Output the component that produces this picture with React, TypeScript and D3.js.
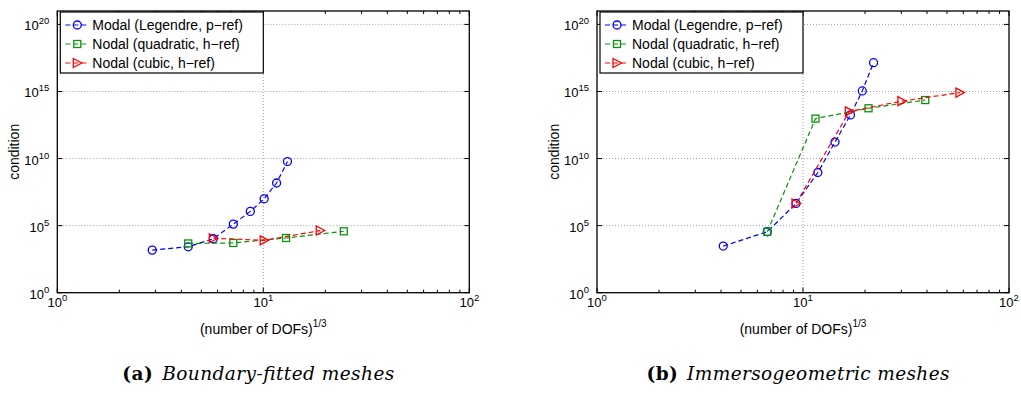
import React from "react";
import * as d3 from "d3";

// (a) boundary-fitted meshes
const fittedModalX = [2.89, 4.32, 5.72, 7.15, 8.65, 10.1, 11.6, 13.1];
const fittedModalY = [1.5e3, 2.65e3, 1.05e4, 1.3e5, 1.15e6, 1.0e7, 1.5e8, 6.0e9];
const fittedQuadX = [4.32, 7.15, 12.9, 24.6];
const fittedQuadY = [4.7e3, 5.1e3, 1.2e4, 3.8e4];
const fittedCubicX = [5.72, 10.1, 18.9];
const fittedCubicY = [1.15e4, 8.0e3, 4.3e4];

// (b) immersogeometric meshes
const immModalX = [4.1, 6.71, 9.25, 11.8, 14.3, 17.0, 19.4, 22.0];
const immModalY = [3.0e3, 3.5e4, 4.5e6, 9.1e8, 1.7e11, 1.8e13, 1.1e15, 1.4e17];
const immQuadX = [6.71, 11.5, 20.8, 39.2];
const immQuadY = [3.5e4, 9.5e12, 5.6e13, 2.3e14];
const immCubicX = [9.25, 16.8, 30.2, 57.8];
const immCubicY = [4.5e6, 3.3e13, 1.9e14, 8.3e14];

const legendLabels = [
  "Modal (Legendre, p\u2212ref)",
  "Nodal (quadratic, h\u2212ref)",
  "Nodal (cubic, h\u2212ref)",
];
const xTickExps = [0, 1, 2];
const yTickExps = [0, 5, 10, 15, 20];
const captions = [
  { tag: "(a)", text: "Boundary-fitted meshes", width: 272 },
  { tag: "(b)", text: "Immersogeometric meshes", width: 303 },
];

const BLUE = "#0000ff";
const GREEN = "#0b930b";
const RED = "#ff0000";
const colors = [BLUE, GREEN, RED];
const shapes = ["circle", "square", "triangle"];

const W = 1021;
const H = 396;
const top = 11;
const bottom = 292.7;
const plotW = 412;
const font = "'Liberation Sans', Arial, Helvetica, sans-serif";

function Marker({ shape, x, y, color }: any) {
  if (shape === "circle")
    return <circle cx={x} cy={y} r={4} fill="none" stroke={color} strokeWidth={1.3} />;
  if (shape === "square")
    return <rect x={x - 3.5} y={y - 3.5} width={7} height={7} fill="none" stroke={color} strokeWidth={1.3} />;
  return (
    <path
      d={`M${x - 4},${y - 4.5}L${x + 4.5},${y}L${x - 4},${y + 4.5}Z`}
      fill="none"
      stroke={color}
      strokeWidth={1.3}
    />
  );
}

function Panel({ left, series, caption }: any) {
  const x = d3.scaleLog().domain([1, 100]).range([left, left + plotW]);
  const y = d3.scaleLog().domain([1, 1e21]).range([bottom, top]);
  const line = d3
    .line<[number, number]>()
    .x((d) => x(d[0]))
    .y((d) => y(d[1]));

  const minor: number[] = [];
  [1, 10].forEach((b) => d3.range(2, 10).forEach((k) => minor.push(b * k)));

  const lx = left + 3;
  const ly = top + 1;
  const center = left + plotW / 2;

  return (
    <g>
      {/* grid */}
      <line x1={x(10)} x2={x(10)} y1={top} y2={bottom} stroke="#a0a0a0" strokeWidth={1} strokeDasharray="1,2" />
      {yTickExps.slice(1).map((e) => (
        <line key={e} x1={left} x2={left + plotW} y1={y(10 ** e)} y2={y(10 ** e)} stroke="#a0a0a0" strokeWidth={1} strokeDasharray="1,2" />
      ))}

      {/* ticks */}
      {xTickExps.map((e) => (
        <g key={e}>
          <line x1={x(10 ** e)} x2={x(10 ** e)} y1={bottom} y2={bottom - 5} stroke="#000" />
          <line x1={x(10 ** e)} x2={x(10 ** e)} y1={top} y2={top + 5} stroke="#000" />
        </g>
      ))}
      {minor.map((v) => (
        <g key={v}>
          <line x1={x(v)} x2={x(v)} y1={bottom} y2={bottom - 3} stroke="#000" />
          <line x1={x(v)} x2={x(v)} y1={top} y2={top + 3} stroke="#000" />
        </g>
      ))}
      {yTickExps.map((e) => (
        <g key={e}>
          <line x1={left} x2={left + 5} y1={y(10 ** e)} y2={y(10 ** e)} stroke="#000" />
          <line x1={left + plotW} x2={left + plotW - 5} y1={y(10 ** e)} y2={y(10 ** e)} stroke="#000" />
        </g>
      ))}

      {/* series */}
      {series.map((s: any, i: number) => {
        const pts: [number, number][] = s.xs.map((v: number, j: number) => [v, s.ys[j]]);
        return (
          <g key={i}>
            <path d={line(pts) || ""} fill="none" stroke={colors[i]} strokeWidth={1.2} strokeDasharray="5,3" />
            {pts.map((p, j) => (
              <Marker key={j} shape={shapes[i]} x={x(p[0])} y={y(p[1])} color={colors[i]} />
            ))}
          </g>
        );
      })}

      {/* axes box */}
      <rect x={left} y={top} width={plotW} height={bottom - top} fill="none" stroke="#000" strokeWidth={1.3} />

      {/* tick labels */}
      {xTickExps.map((e) => (
        <text key={e} x={x(10 ** e)} y={bottom + 14} textAnchor="middle" fontFamily={font} fontSize={13}>
          <tspan>10</tspan>
          <tspan dy={-6} fontSize={9.5}>{e}</tspan>
        </text>
      ))}
      {yTickExps.map((e) => (
        <text key={e} x={left - 8} y={y(10 ** e) + 6} textAnchor="end" fontFamily={font} fontSize={13}>
          <tspan>10</tspan>
          <tspan dy={-6} fontSize={9.5}>{e}</tspan>
        </text>
      ))}

      {/* axis titles */}
      <text x={center} y={334} textAnchor="middle" fontFamily={font} fontSize={14}>
        <tspan>(number of DOFs)</tspan>
        <tspan dy={-7} fontSize={10}>1/3</tspan>
      </text>
      <text
        transform={`translate(${left - 38},${(top + bottom) / 2}) rotate(-90)`}
        textAnchor="middle"
        fontFamily={font}
        fontSize={14}
      >
        condition
      </text>

      {/* legend */}
      <rect x={lx} y={ly} width={203} height={61} fill="#fff" stroke="#000" strokeWidth={1.2} />
      {legendLabels.map((lab, i) => {
        const cy = ly + 13 + i * 19;
        return (
          <g key={i}>
            <line x1={lx + 5} x2={lx + 28} y1={cy} y2={cy} stroke={colors[i]} strokeWidth={1.2} strokeDasharray="5,3" />
            <Marker shape={shapes[i]} x={lx + 17} y={cy} color={colors[i]} />
            <text x={lx + 32} y={cy + 5} fontFamily={font} fontSize={14}>
              {lab}
            </text>
          </g>
        );
      })}

      {/* caption */}
      <text
        x={center - 5 - caption.width / 2}
        y={380}
        textLength={caption.width}
        lengthAdjust="spacing"
        fontFamily="'DejaVu Serif', 'Liberation Serif', serif"
        fontSize={18.5}
      >
        <tspan fontWeight="bold">{caption.tag}</tspan>
        <tspan fontStyle="italic" dx={9}>{caption.text}</tspan>
      </text>
    </g>
  );
}

export default function App() {
  const fitted = [
    { xs: fittedModalX, ys: fittedModalY },
    { xs: fittedQuadX, ys: fittedQuadY },
    { xs: fittedCubicX, ys: fittedCubicY },
  ];
  const imm = [
    { xs: immModalX, ys: immModalY },
    { xs: immQuadX, ys: immQuadY },
    { xs: immCubicX, ys: immCubicY },
  ];
  return (
    <svg
      width={W}
      height={H}
      style={{ position: "absolute", left: 0, top: 0, background: "#fff" }}
    >
      <Panel left={57.3} series={fitted} caption={captions[0]} />
      <Panel left={597} series={imm} caption={captions[1]} />
    </svg>
  );
}
